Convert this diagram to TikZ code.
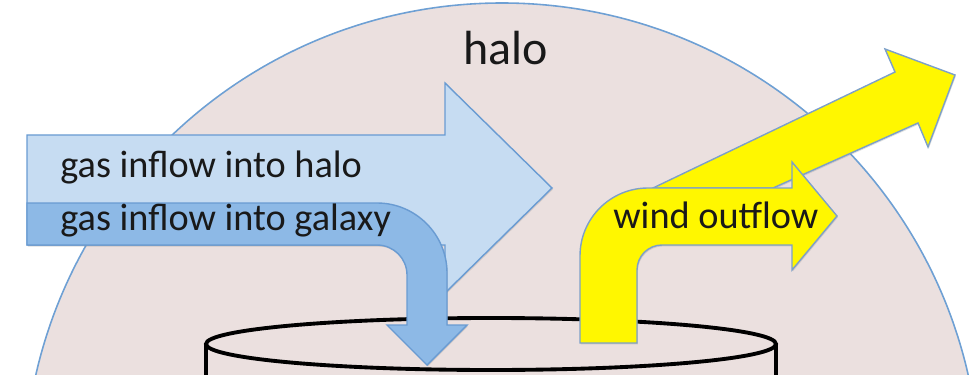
\documentclass[tikz,border=0pt]{standalone}
\usepackage{fontspec}
\setmainfont{Carlito}
\usepackage{tikz}
\usetikzlibrary{shadows}

\definecolor{halopink}{RGB}{235,224,223}
\definecolor{haloline}{RGB}{110,160,212}
\definecolor{lightgas}{RGB}{198,220,242}
\definecolor{darkgas}{RGB}{141,185,230}
\definecolor{gasline}{RGB}{105,155,210}
\definecolor{windyellow}{RGB}{255,247,0}
\definecolor{windline}{RGB}{125,160,200}
\definecolor{labeltext}{RGB}{25,25,25}

\begin{document}
\begin{tikzpicture}[x=0.02cm, y=-0.02cm,
    softshadow/.style={drop shadow={opacity=0.25, shadow xshift=0.5pt, shadow yshift=-0.8pt}},
    gasarrow/.style={draw=gasline, line width=0.8pt, softshadow},
    windarrow/.style={draw=windline, line width=0.8pt, fill=windyellow, softshadow},
    lbl/.style={anchor=base west, inner sep=0pt, text=labeltext, font=\fontsize{21.8}{24}\selectfont}]

    \useasboundingbox (0,0) rectangle (977,375);
    \clip (0,0) rectangle (977,375);

    % halo
    \draw[fill=halopink, draw=haloline, line width=0.9pt] (502,481) circle[radius=478];

    % galaxy disk
    \draw[line width=2.2pt] (206,400) -- (206,344) (776,344) -- (776,400);
    \draw[line width=2.2pt] (491,344) ellipse[x radius=285, y radius=26];

    % inflow
    \path[gasarrow, fill=lightgas] (27,135) -- (445,135) -- (445,83) -- (552,188) -- (445,293) -- (445,245) -- (27,245) -- cycle;
    \path[gasarrow, fill=darkgas] (27,203) -- (377,203) .. controls (415.6,203) and (447,234.4) .. (447,273) -- (447,325) -- (467,325) -- (427,365) -- (387,325) -- (407,325) -- (407,275) .. controls (407,258.4) and (393.6,245) .. (377,245) -- (27,245) -- cycle;

    % outflow
    \path[windarrow] (653,188) -- (895,72) -- (885,49) -- (955,75) -- (928,147) -- (918,123) -- (773,188) -- cycle;
    \path[windarrow] (580,343) -- (580,256) .. controls (580,218.4) and (610.4,188) .. (648,188) -- (792,188) -- (792,162) -- (837,216) -- (792,270) -- (792,245) -- (662,245) .. controls (648.2,245) and (637,256.2) .. (637,270) -- (637,343) -- cycle;

    \node[lbl, font=\fontsize{27.3}{30}\selectfont] (halolbl) at (463,65) {halo};
    \node[lbl] (haloflow) at (60,177) {gas inflow into halo};
    \node[lbl] (galaxyflow) at (60,230) {gas inflow into galaxy};
    \node[lbl] (windlbl) at (613,228) {wind outflow};

\end{tikzpicture}
\end{document}
